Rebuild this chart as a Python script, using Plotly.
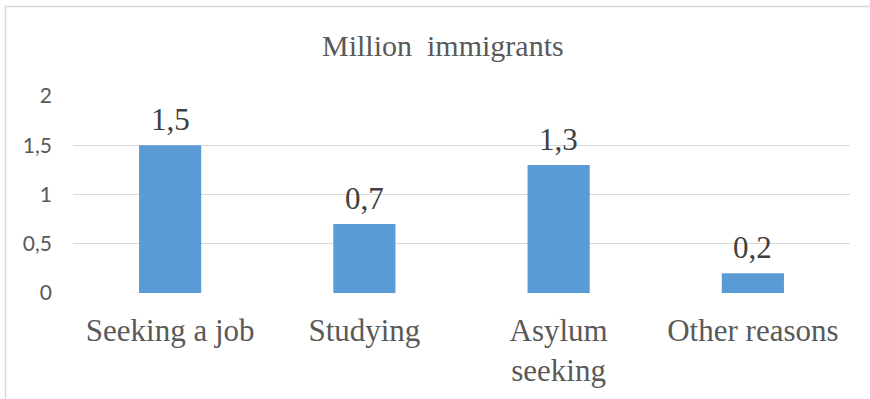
import plotly.graph_objects as go

categories = ["Seeking a job", "Studying", "Asylum<br>seeking", "Other reasons"]
values = [1.5, 0.7, 1.3, 0.2]
y_ticks = [0, 0.5, 1, 1.5, 2]
y_tick_labels = ["0", "0,5", "1", "1,5", "2"]
title_text = "Million  immigrants"

SERIF = "Times New Roman, Liberation Serif, serif"
SANS = "Lato, Carlito, sans-serif"

W, H = 870, 399
L, R, T, B = 73, 20, 96, 106
pw, ph = W - L - R, H - T - B

def px_x(x):
    return (x - L) / pw

def px_y(y):
    return (H - B - y) / ph

fig = go.Figure(
    go.Bar(
        x=categories,
        y=values,
        width=0.32,
        marker=dict(color="#5b9bd5", line=dict(width=0)),
        cliponaxis=False,
    )
)

# value labels above each bar
value_labels = [
    dict(
        x=c,
        y=v,
        xref="x",
        yref="y",
        text=f"{v:.1f}".replace(".", ","),
        showarrow=False,
        xanchor="center",
        yanchor="bottom",
        yshift=6,
        font=dict(family=SERIF, size=31, color="#404040"),
    )
    for c, v in zip(categories, values)
]

fig.update_layout(
    width=W,
    height=H,
    margin=dict(l=L, r=R, t=T, b=B, pad=0),
    paper_bgcolor="white",
    plot_bgcolor="white",
    showlegend=False,
    separators=", ",
    xaxis=dict(
        showgrid=False,
        showline=False,
        zeroline=False,
        ticks="",
        tickfont=dict(family=SERIF, size=31, color="#595959"),
        ticklabelstandoff=16,
    ),
    yaxis=dict(
        range=[0, 2],
        tickvals=y_ticks,
        ticktext=y_tick_labels,
        showgrid=True,
        gridcolor="#d9d9d9",
        gridwidth=1.3,
        zeroline=False,
        showline=False,
        ticks="",
        tickfont=dict(family=SANS, size=21, color="#595959"),
        ticklabelstandoff=20,
    ),
    annotations=value_labels + [
        dict(
            text=title_text,
            xref="paper",
            yref="paper",
            x=px_x(442.5),
            y=px_y(45),
            xanchor="center",
            yanchor="middle",
            showarrow=False,
            font=dict(family=SERIF, size=30, color="#595959"),
        )
    ],
    shapes=[
        dict(
            type="rect",
            xref="paper",
            yref="paper",
            x0=px_x(5.5),
            x1=px_x(880),
            y0=px_y(420),
            y1=px_y(6.5),
            line=dict(color="#d9d9d9", width=1.5),
            fillcolor="rgba(0,0,0,0)",
            layer="below",
        )
    ],
)

fig.write_html("out.html")
